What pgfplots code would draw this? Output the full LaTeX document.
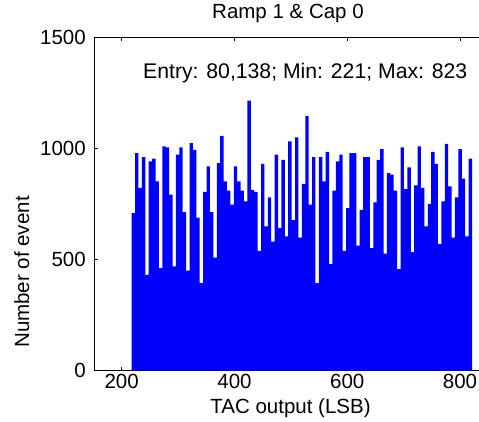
\documentclass[border=0pt]{standalone}
\usepackage{fontspec}
\setmainfont{Liberation Sans}
\usepackage{pgfplots}
\pgfplotsset{compat=1.18}
\pgfplotstableread{
x y
217.70 709
223.74 979
229.77 822
235.81 961
241.84 431
247.88 942
253.92 954
259.95 852
265.99 461
272.02 1009
278.06 1005
284.10 792
290.13 469
296.17 972
302.20 1005
308.24 713
314.28 450
320.31 1024
326.35 994
332.38 689
338.42 394
344.46 804
350.49 919
356.53 713
362.56 509
368.60 934
374.64 1057
380.67 852
386.71 810
392.74 747
398.78 919
404.82 852
410.85 810
416.89 762
422.92 1215
428.96 814
435.00 804
441.03 539
447.07 930
453.10 649
459.14 780
465.18 581
471.21 972
477.25 641
483.28 949
489.32 604
495.36 1032
501.39 677
507.43 1050
513.46 599
519.50 840
525.54 1147
531.57 747
537.61 961
543.64 394
549.68 961
555.72 852
561.75 984
567.79 479
573.82 810
579.86 942
585.90 972
591.93 539
597.97 732
604.00 979
610.04 979
616.08 563
622.11 724
628.15 961
634.18 961
640.22 551
646.26 757
652.29 949
658.33 997
664.36 527
670.40 889
676.44 882
682.47 810
688.51 457
694.54 1005
700.58 817
706.62 915
712.65 533
718.69 834
724.72 1009
730.76 822
736.80 649
742.83 751
748.87 984
754.90 931
760.94 569
766.98 762
773.01 1021
779.05 829
785.08 599
791.12 780
797.16 997
803.19 864
809.23 604
815.26 954
821.30 954
}\histdata
\begin{document}
\fontsize{20.5}{24}\selectfont
\begin{tikzpicture}[x=1pt,y=1pt]
\begin{axis}[
  at={(94.3pt,50.3pt)}, anchor=south west,
  scale only axis, width=384.7pt, height=333.4pt,
  xmin=151.4, xmax=833.7, ymin=0, ymax=1500,
  axis x line*=box, axis y line*=left,
  xtick={200,400,600,800}, ytick={0,500,1000,1500},
  tick align=inside, major tick length=4pt,
  tick style={black, line width=0.8pt},
  axis line style={black, line width=1pt},
  /pgf/number format/assume math mode=true,
  /pgf/number format/1000 sep={},
  scaled ticks=false,
  font=\fontsize{20.5}{24}\selectfont,
  xticklabel style={inner sep=0pt, anchor=north, yshift=-3.5pt},
  yticklabel style={inner sep=0pt, anchor=east, xshift=-8.3pt},
  title={Ramp 1 \& Cap 0},
  title style={at={(rel axis cs:0.5035,1.0369)}, anchor=base, inner sep=0pt},
  xlabel={TAC output (LSB)},
  xlabel style={at={(rel axis cs:0.51,-0.1278)}, anchor=base, inner sep=0pt},
  ylabel={Number of event},
  ylabel style={at={(rel axis cs:-0.1697,0.296)}, anchor=base, inner sep=0pt},
]
\addplot[const plot, fill={rgb,255:red,0;green,0;blue,255}, draw=none] table[x=x,y=y] {\histdata} \closedcycle;
\node[anchor=base west, inner sep=0pt, font=\fontsize{21.2}{25}\selectfont] at (axis cs:237.8,1314) {Entry: 80,138; Min: 221; Max: 823};
\end{axis}
\pgfresetboundingbox
\path[use as bounding box] (0,0) rectangle (479,421);
\end{tikzpicture}
\end{document}
